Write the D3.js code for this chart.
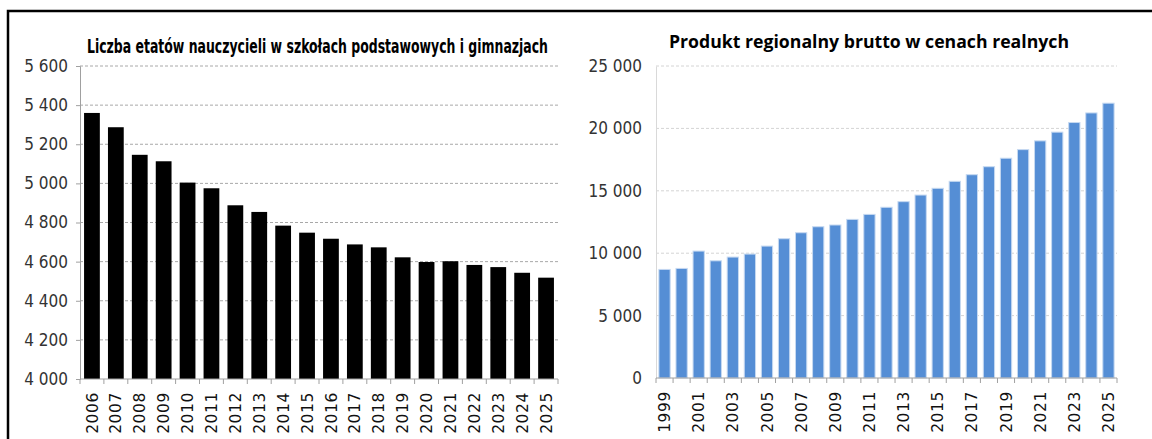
<!DOCTYPE html>
<html>
<head>
<meta charset="utf-8">
<script src="https://cdn.jsdelivr.net/npm/d3@7"></script>
<style>
  body { margin: 0; background: #fff; }
  svg { display: block; }
</style>
</head>
<body>
<script>
// teachers (left chart)
const teacherYears = ['2006','2007','2008','2009','2010','2011','2012','2013','2014','2015',
  '2016','2017','2018','2019','2020','2021','2022','2023','2024','2025'];
const teacherJobs = [5360, 5287, 5146, 5113, 5004, 4975, 4888, 4854, 4784, 4748,
  4717, 4688, 4673, 4622, 4598, 4602, 4583, 4572, 4543, 4518];
const teacherTicks = [4000, 4200, 4400, 4600, 4800, 5000, 5200, 5400, 5600];

// GDP (right chart)
const gdpYears = d3.range(1999, 2026).map(String);
const gdpValues = [8700, 8780, 10170, 9390, 9690, 9930, 10570, 11160, 11640, 12120,
  12260, 12710, 13110, 13680, 14130, 14660, 15200, 15760, 16290, 16930,
  17610, 18300, 19000, 19700, 20470, 21240, 22020];
const gdpTicks = [0, 5000, 10000, 15000, 20000, 25000];
const gdpLabelYears = gdpYears.filter((d, i) => i % 2 === 0);

const titleLeft = 'Liczba etatów nauczycieli w szkołach podstawowych  i gimnazjach';
const titleRight = 'Produkt regionalny brutto w cenach realnych';

const pl = d3.formatLocale({decimal: ',', thousands: '\u00a0', grouping: [3], currency: ['', '']});
const fmt = pl.format(',');

const narrow = '"Liberation Sans Narrow", "DejaVu Sans Condensed", "Roboto", sans-serif';

const svg = d3.select('body').append('svg')
  .attr('width', 1152)
  .attr('height', 439);

// frame
svg.append('path')
  .attr('d', 'M8,439 V11 H1152')
  .attr('fill', 'none')
  .attr('stroke', '#000')
  .attr('stroke-width', 2.5);

function drawChart(cfg) {
  const g = svg.append('g');
  const x = d3.scaleBand()
    .domain(cfg.cats)
    .range([cfg.x0, cfg.x1])
    .paddingInner(cfg.pad)
    .paddingOuter(cfg.pad / 2);
  const y = d3.scaleLinear()
    .domain(cfg.domain)
    .range([cfg.y0, cfg.y1]);

  // grid
  g.append('g')
    .selectAll('line')
    .data(cfg.ticks.filter(t => t !== cfg.domain[0]))
    .enter()
      .append('line')
      .attr('x1', cfg.x0)
      .attr('x2', cfg.x1)
      .attr('y1', d => y(d))
      .attr('y2', d => y(d))
      .attr('stroke', cfg.gridColor)
      .attr('stroke-dasharray', '3,2');

  // y axis
  const yAxis = g.append('g')
    .attr('transform', `translate(${cfg.x0},0)`)
    .call(d3.axisLeft(y).tickValues(cfg.ticks).tickFormat(fmt).tickSize(cfg.yTick).tickPadding(cfg.yPad));
  yAxis.select('.domain').attr('stroke', cfg.yAxisColor);
  yAxis.selectAll('.tick line').attr('stroke', cfg.yAxisColor);
  yAxis.selectAll('.tick text')
    .attr('font-family', narrow)
    .attr('font-size', 17)
    .attr('fill', '#333');

  // bars
  g.append('g')
    .selectAll('rect')
    .data(cfg.values)
    .enter()
      .append('rect')
      .attr('x', (d, i) => x(cfg.cats[i]))
      .attr('width', x.bandwidth())
      .attr('y', d => y(d))
      .attr('height', d => y(cfg.domain[0]) - y(d))
      .attr('fill', cfg.barColor)
      .attr('stroke', cfg.barStroke)
      .attr('stroke-width', cfg.barStroke === 'none' ? 0 : 1);

  // x axis line + boundary ticks
  const base = y(cfg.domain[0]);
  g.append('line')
    .attr('x1', cfg.x0).attr('x2', cfg.x1)
    .attr('y1', base).attr('y2', base)
    .attr('stroke', '#a0a0a0');
  const step = x.step();
  g.append('g')
    .selectAll('line')
    .data(d3.range(cfg.cats.length + 1))
    .enter()
      .append('line')
      .attr('x1', i => cfg.x0 + i * step)
      .attr('x2', i => cfg.x0 + i * step)
      .attr('y1', base)
      .attr('y2', base + 5)
      .attr('stroke', '#a0a0a0');

  // x labels
  g.append('g')
    .selectAll('text')
    .data(cfg.labels)
    .enter()
      .append('text')
      .attr('transform', d => `translate(${x(d) + x.bandwidth() / 2},${base + 13}) rotate(-90)`)
      .attr('text-anchor', 'end')
      .attr('dy', '0.36em')
      .attr('font-family', '"DejaVu Sans", sans-serif')
      .attr('font-size', 15.5)
      .attr('letter-spacing', 0.6)
      .attr('fill', '#111')
      .text(d => d);

  // title
  g.append('text')
    .attr('x', cfg.titleX)
    .attr('y', cfg.titleY)
    .attr('text-anchor', 'middle')
    .attr('font-family', cfg.titleFont)
    .attr('font-weight', 'bold')
    .attr('font-size', cfg.titleSize)
    .attr('textLength', cfg.titleLen)
    .attr('lengthAdjust', 'spacingAndGlyphs')
    .attr('fill', '#000')
    .text(cfg.title);
}

drawChart({
  cats: teacherYears, values: teacherJobs, labels: teacherYears,
  ticks: teacherTicks, domain: [4000, 5600],
  x0: 80, x1: 558, y0: 379, y1: 66, pad: 0.34,
  gridColor: '#a8a8a8', yAxisColor: '#a0a0a0', yTick: 4, yPad: 8,
  barColor: '#000', barStroke: 'none',
  title: titleLeft, titleX: 317.5, titleY: 53, titleSize: 19, titleLen: 461,
  titleFont: narrow
});

drawChart({
  cats: gdpYears, values: gdpValues, labels: gdpLabelYears,
  ticks: gdpTicks, domain: [0, 25000],
  x0: 656, x1: 1117, y0: 378, y1: 66, pad: 0.34,
  gridColor: '#d4d4d4', yAxisColor: '#d9d9d9', yTick: 0, yPad: 14,
  barColor: '#558ed5', barStroke: '#c6d9f1',
  title: titleRight, titleX: 869, titleY: 48, titleSize: 17.5, titleLen: 400,
  titleFont: '"Open Sans", "Liberation Sans", sans-serif'
});
</script>
</body>
</html>
